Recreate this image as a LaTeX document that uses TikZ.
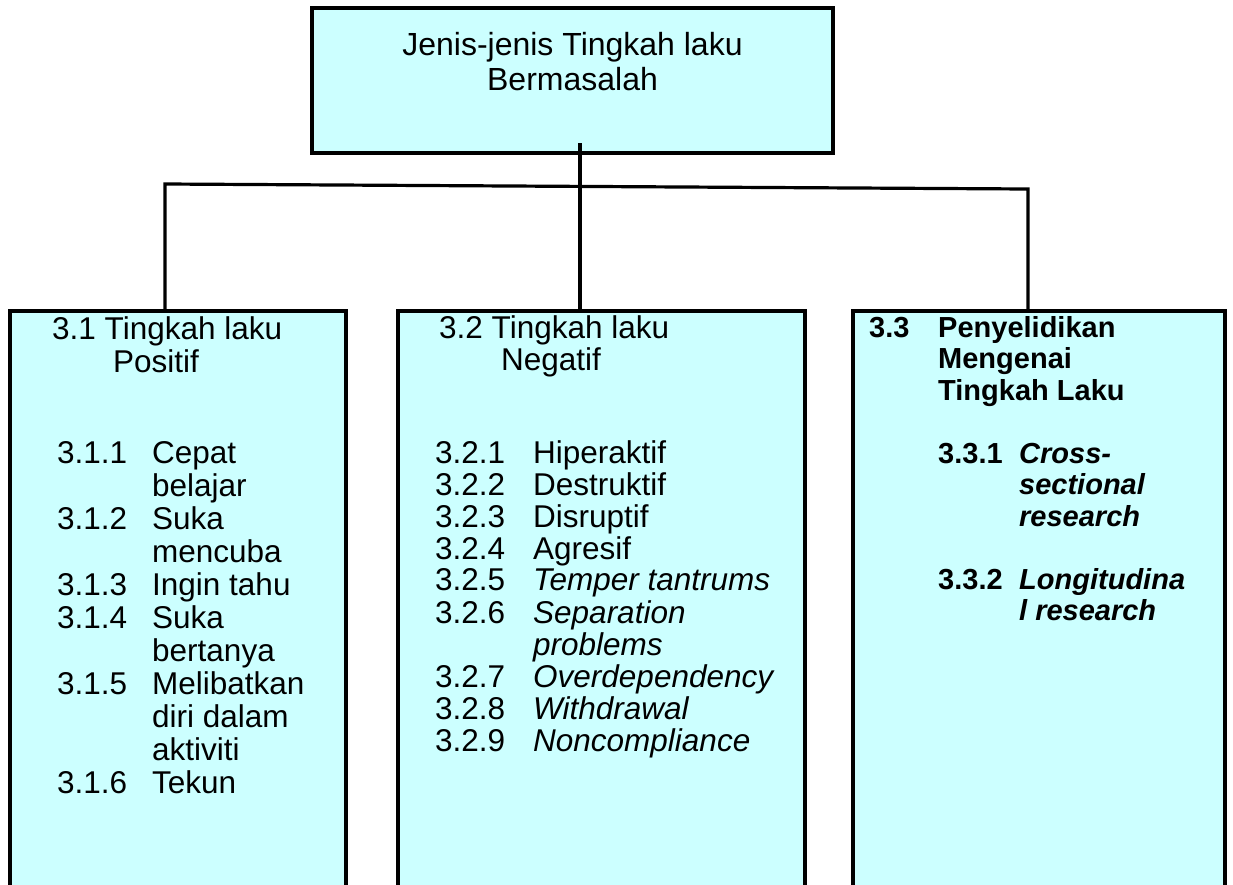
\documentclass[tikz,border=0pt]{standalone}
\usepackage{fontspec}
\setmainfont{Liberation Sans}
\usetikzlibrary{positioning}
\definecolor{boxcyan}{RGB}{204,255,255}
\newcommand{\posfont}{\fontsize{31.5}{33}\selectfont}
\newcommand{\negfont}{\fontsize{31.5}{31.2}\selectfont}
\newcommand{\titlefont}{\fontsize{32}{35}\selectfont}
\newcommand{\resfont}{\fontsize{29}{31.5}\selectfont\bfseries}

\begin{document}
\begin{tikzpicture}[x=1pt, y=-1pt,
    box/.style={draw, rectangle, fill=boxcyan, line width=4pt, anchor=north west, inner sep=0pt, outer sep=0pt},
    link/.style={line width=3.2pt},
    txt/.style={anchor=base west, inner sep=0pt}]
    \useasboundingbox (0,0) rectangle (1233,884);
    \clip (0,0) rectangle (1233,884);

    % Boxes
    \node[box, minimum width=521pt, minimum height=145pt] (top) at (312,8) {};
    \node[box, minimum width=336pt, minimum height=600pt] (pos) at (10,311) {};
    \node[box, minimum width=407pt, minimum height=600pt] (neg) at (398,311) {};
    \node[box, minimum width=372pt, minimum height=600pt] (res) at (853,311) {};

    % Connectors
    \coordinate (hubL) at (165,184);
    \coordinate (hubM) at (580,186);
    \coordinate (hubR) at (1028,189);
    \draw[link] ([yshift=10pt]top.south -| hubM) -- (neg.north -| hubM);
    \draw[link] (pos.north -| hubL) -- (hubL) -- (hubR) -- (res.north -| hubR);

    % Texts
    \node[anchor=base, inner sep=0pt, font=\titlefont] (title) at ([yshift=-47pt]top.north)
        {\begin{tabular}[t]{@{}c@{}}Jenis-jenis Tingkah laku\\Bermasalah\end{tabular}};

    \node[txt, font=\posfont] (posHead) at (52,339) {\begin{tabular}[t]{@{}l@{}}
        3.1 Tingkah laku\\
        \hspace{61pt}Positif
    \end{tabular}};
    \node[txt, font=\posfont] (posText) at (57,463) {\begin{tabular}[t]{@{}p{95pt}@{}l@{}}
        3.1.1 & Cepat\\
              & belajar\\
        3.1.2 & Suka\\
              & mencuba\\
        3.1.3 & Ingin tahu\\
        3.1.4 & Suka\\
              & bertanya\\
        3.1.5 & Melibatkan\\
              & diri dalam\\
              & aktiviti\\
        3.1.6 & Tekun
    \end{tabular}};

    \node[txt, font=\negfont] (negHead) at (439,338) {\begin{tabular}[t]{@{}l@{}}
        3.2 Tingkah laku\\
        \hspace{62pt}Negatif
    \end{tabular}};
    \node[txt, font=\negfont] (negText) at (435,463) {\begin{tabular}[t]{@{}p{98pt}@{}l@{}}
        3.2.1 & Hiperaktif\\
        3.2.2 & Destruktif\\
        3.2.3 & Disruptif\\
        3.2.4 & Agresif\\
        3.2.5 & \textit{Temper tantrums}\\
        3.2.6 & \textit{Separation}\\
              & \textit{problems}\\
        3.2.7 & \textit{Overdependency}\\
        3.2.8 & \textit{Withdrawal}\\
        3.2.9 & \textit{Noncompliance}
    \end{tabular}};

    \node[txt, font=\resfont] (resText) at (869,337) {\begin{tabular}[t]{@{}p{69pt}@{}p{81pt}@{}l@{}}
        3.3 & \multicolumn{2}{@{}l@{}}{Penyelidikan}\\
            & \multicolumn{2}{@{}l@{}}{Mengenai}\\
            & \multicolumn{2}{@{}l@{}}{Tingkah Laku}\\
        \\
            & 3.3.1 & \textit{Cross-}\\
            &       & \textit{sectional}\\
            &       & \textit{research}\\
        \\
            & 3.3.2 & \textit{Longitudina}\\
            &       & \textit{l research}
    \end{tabular}};
\end{tikzpicture}
\end{document}
